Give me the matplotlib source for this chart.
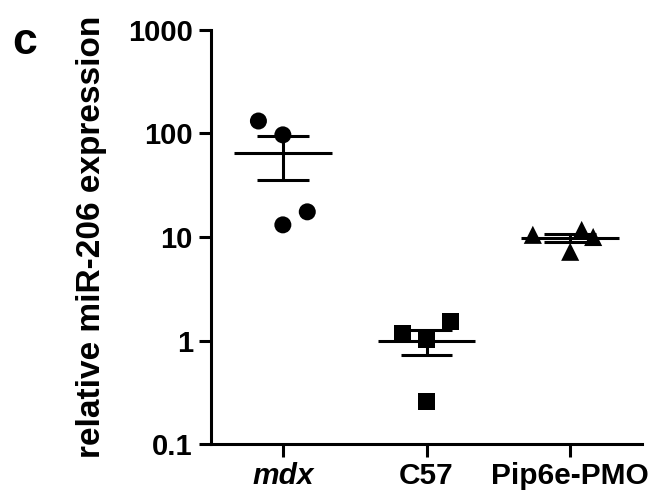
import numpy as np
import matplotlib
matplotlib.use("Agg")
import matplotlib.pyplot as plt

plt.rcParams['font.family'] = ['Liberation Sans', 'DejaVu Sans']
plt.rcParams['font.weight'] = 'bold'

# Datos
grupos = ['mdx', 'C57', 'Pip6e-PMO']
mdx = [132, 97, 13.1, 17.5]
c57 = [1.18, 1.03, 1.51, 0.26]
pip6e = [10.5, 11.7, 10.0, 7.2]
valores = [mdx, c57, pip6e]
marcadores = ['o', 's', '^']
# desplazamiento horizontal de cada punto (dispersion)
jitter = [[-0.17, 0.0, 0.0, 0.17],
          [-0.17, 0.0, 0.17, 0.0],
          [-0.26, 0.08, 0.16, 0.0]]

fig = plt.figure(figsize=(6.58, 4.98), dpi=100)
ax = fig.add_axes([0.3207, 0.1084, 0.655, 0.8314])

lw = 2.2
for i, (vals, m, jit) in enumerate(zip(valores, marcadores, jitter)):
    vals = np.array(vals)
    media = vals.mean()
    sem = vals.std(ddof=1) / np.sqrt(len(vals))
    # linea de la media y barras de error (SEM)
    ax.hlines(media, i - 0.34, i + 0.34, color='black', lw=lw, zorder=2)
    ax.vlines(i, media - sem, media + sem, color='black', lw=lw, zorder=2)
    ax.hlines([media - sem, media + sem], i - 0.18, i + 0.18, color='black', lw=lw, zorder=2)
    ax.scatter(i + np.array(jit), vals, marker=m, s=150 if m != '^' else 170,
               color='black', edgecolors='none', zorder=3)

ax.set_yscale('log')
ax.set_ylim(0.1, 1000)
ax.set_xlim(-0.5, 2.5)
ax.set_yticks([0.1, 1, 10, 100, 1000])
ax.set_yticklabels(['0.1', '1', '10', '100', '1000'])
ax.minorticks_off()
ax.set_xticks(range(len(grupos)))
ax.set_xticklabels(grupos, fontsize=21.5)
ax.get_xticklabels()[0].set_style('italic')

for s in ['top', 'right']:
    ax.spines[s].set_visible(False)
for s in ['left', 'bottom']:
    ax.spines[s].set_linewidth(lw)
ax.tick_params(axis='both', length=9, width=lw, pad=4)
ax.tick_params(axis='y', labelsize=21)

ax.set_ylabel('relative miR-206 expression', fontsize=24, fontweight='bold', labelpad=15)
fig.text(0.018, 0.955, 'c', fontsize=32, fontweight='bold', va='top', ha='left')

plt.savefig('out.png', dpi=100)
